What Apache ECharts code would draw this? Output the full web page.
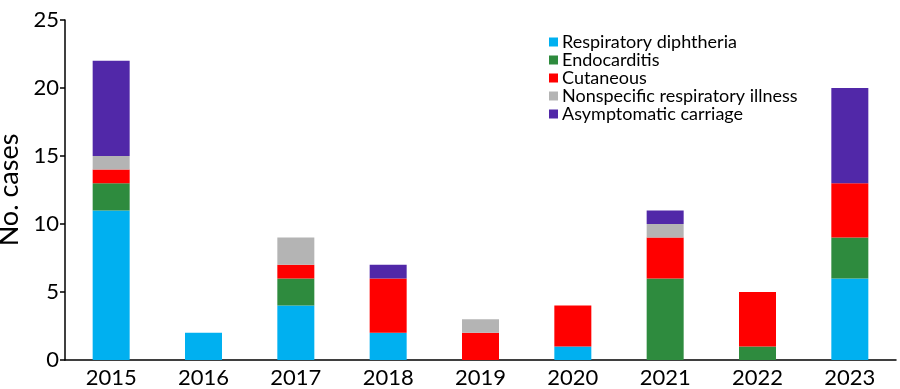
<!DOCTYPE html>
<html><head><meta charset="utf-8">
<script src="https://cdn.jsdelivr.net/npm/echarts@6/dist/echarts.min.js"></script>
<style>html,body{margin:0;padding:0;background:#fff}#c{width:900px;height:389px}</style>
</head><body><div id="c"></div>
<script>
const years = ['2015','2016','2017','2018','2019','2020','2021','2022','2023'];
const respiratory = [11, 2, 4, 2, 0, 1, 0, 0, 6];
const endocarditis = [2, 0, 2, 0, 0, 0, 6, 1, 3];
const cutaneous = [1, 0, 1, 4, 2, 3, 3, 4, 4];
const nonspecific = [1, 0, 2, 0, 1, 0, 1, 0, 0];
const asymptomatic = [7, 0, 0, 1, 0, 0, 1, 0, 7];
const seriesNames = ['Respiratory diphtheria','Endocarditis','Cutaneous','Nonspecific respiratory illness','Asymptomatic carriage'];
const colors = ['#00B0F0','#2E8B3E','#FF0000','#B4B4B4','#5128A8'];
const yTicks = [0,5,10,15,20,25];

const font = 'Lato, "Open Sans", sans-serif';
const dataSets = [respiratory, endocarditis, cutaneous, nonspecific, asymptomatic];
const chart = echarts.init(document.getElementById('c'), null, {renderer:'canvas'});
chart.setOption({
  animation: false,
  color: colors,
  grid: {left: 65, right: 4, top: 20, bottom: 29, containLabel: false, outerBoundsMode: 'none'},
  legend: {
    orient: 'vertical', left: 544, top: 28,
    itemWidth: 9, itemHeight: 9, itemGap: 0,
    icon: 'rect',
    textStyle: {fontFamily: font, fontSize: 18, color: '#000', lineHeight: 18, padding: [0,0,0,-1]},
    data: seriesNames
  },
  xAxis: {
    type: 'category', data: years,
    axisLine: {lineStyle: {color: '#000', width: 1.5}},
    axisTick: {show: false},
    axisLabel: {fontFamily: font, fontSize: 22, color: '#000', margin: 7}
  },
  yAxis: {
    type: 'value', min: 0, max: 25, interval: 5,
    name: 'No. cases', nameLocation: 'middle', nameGap: 37,
    nameTextStyle: {fontFamily: font, fontSize: 27, color: '#000'},
    axisLine: {show: true, lineStyle: {color: '#000', width: 1.5}},
    axisTick: {show: true, length: 5, lineStyle: {color: '#000', width: 1.5}},
    splitLine: {show: false},
    axisLabel: {fontFamily: font, fontSize: 22, color: '#000', margin: 6,
      formatter: v => yTicks.includes(v) ? String(v) : ''}
  },
  series: seriesNames.map((n, i) => ({
    name: n, type: 'bar', stack: 'total', barWidth: 37,
    data: dataSets[i].map(v => v === 0 ? null : v),
    itemStyle: {color: colors[i]}
  }))
});
</script></body></html>
